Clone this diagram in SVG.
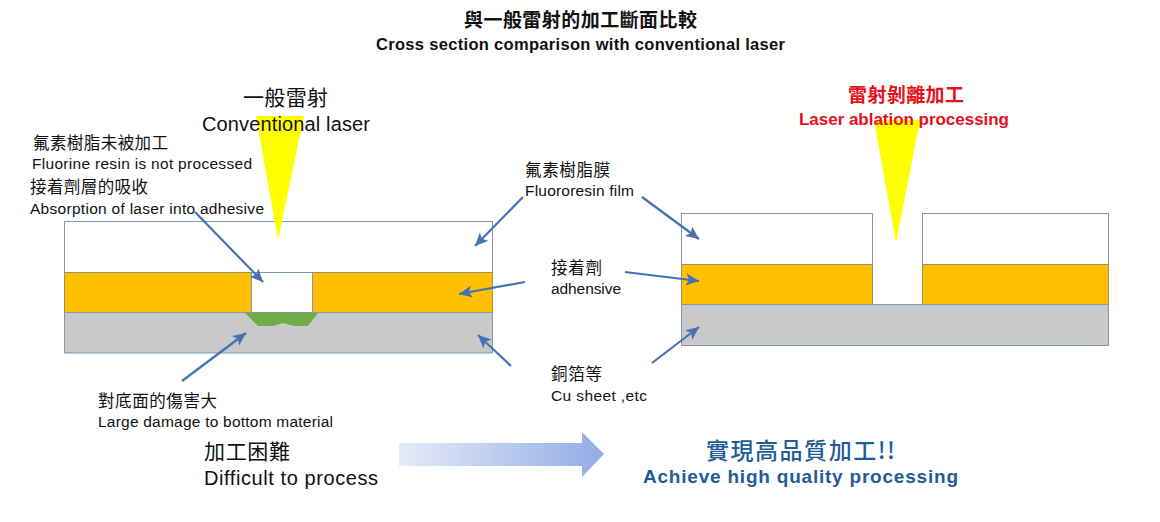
<svg xmlns="http://www.w3.org/2000/svg" width="1160" height="522" viewBox="0 0 1160 522">
<style>
text{font-family:"Liberation Sans","Noto Sans CJK TC",sans-serif;fill:#111}
.cjk{font-family:"Noto Sans CJK TC","Noto Sans CJK JP",sans-serif}
.b{font-weight:700}
.red{fill:#e8101a}
.blue{fill:#1f5c9a}
.film{fill:#fff;stroke:#8497b0;stroke-width:1}
.glue{fill:#ffc000;stroke:#a09060;stroke-width:1}
.cu{fill:#c9c9c9;stroke:#8497b0;stroke-width:1}
.beam{fill:#ffff00}
.lead{stroke:#4472b4;stroke-width:2.200;fill:none;marker-end:url(#tip)}
</style>
<defs>
<marker id="tip" markerUnits="userSpaceOnUse" markerWidth="15" markerHeight="13" refX="13" refY="6.500" orient="auto">
<path d="M0 0.500L13 6.500L0 12.500L3 6.500Z" fill="#4472b4"/>
</marker>
<linearGradient id="flow" x1="0" x2="1" y1="0" y2="0">
<stop offset="0" stop-color="#e6ebf8"/>
<stop offset="1" stop-color="#92ace6"/>
</linearGradient>
</defs>
<rect width="1160" height="522" fill="#fff"/>

<g id="title">
<text class="cjk b" x="464" y="27" font-size="19" textLength="233">與一般雷射的加工斷面比較</text>
<text class="b" x="376" y="50" font-size="16.500" textLength="409">Cross section comparison with conventional laser</text>
</g>

<g id="conventional-stack">
<rect class="film" x="64.500" y="221.500" width="428" height="51"/>
<rect class="glue" x="64.500" y="272.500" width="187" height="40"/>
<rect class="glue" x="312.500" y="272.500" width="180" height="40"/>
<rect x="251.500" y="272.500" width="61" height="40" fill="#fff" stroke="#8497b0"/>
<rect class="cu" x="64.500" y="312.500" width="428" height="40.500"/>
<path id="damage-zone" d="M245 313H318L308 326H294L283 323L273 326H258Z" fill="#70ad47"/>
</g>

<g id="conventional-beam">
<path class="beam" d="M256 116H304L278 240Z"/>
</g>

<g id="ablation-stack">
<rect class="film" x="681.500" y="213.500" width="191" height="51"/>
<rect class="film" x="922.500" y="213.500" width="186" height="51"/>
<rect class="glue" x="681.500" y="264.500" width="191" height="40"/>
<rect class="glue" x="922.500" y="264.500" width="186" height="40"/>
<rect class="cu" x="681.500" y="304.500" width="427" height="41"/>
</g>

<g id="ablation-beam">
<path class="beam" d="M874 120H920L896 243Z"/>
</g>

<g id="connectors">
<line class="lead" x1="195" y1="212" x2="263" y2="282"/>
<line class="lead" x1="523" y1="197" x2="475" y2="246"/>
<line class="lead" x1="525" y1="282" x2="459" y2="294"/>
<line class="lead" x1="511" y1="366" x2="478" y2="335"/>
<line class="lead" x1="182" y1="381" x2="246" y2="333"/>
<line class="lead" x1="642" y1="197" x2="699" y2="239"/>
<line class="lead" x1="625" y1="272" x2="699" y2="281"/>
<line class="lead" x1="652" y1="363" x2="699" y2="327"/>
</g>

<g id="flow-arrow">
<path d="M399 443H582V432L604 454L582 477V466H399Z" fill="url(#flow)"/>
</g>

<g id="label-conventional">
<text class="cjk" x="243" y="105" font-size="21" textLength="85">一般雷射</text>
<text x="202" y="131" font-size="20" textLength="168">Conventional laser</text>
</g>
<g id="label-ablation">
<text class="cjk b red" x="848" y="102" font-size="19" textLength="116">雷射剝離加工</text>
<text class="b red" x="799" y="125" font-size="17" textLength="210">Laser ablation processing</text>
</g>
<g id="label-resin">
<text class="cjk" x="33" y="149" font-size="16.500" textLength="135">氟素樹脂未被加工</text>
<text x="32" y="169" font-size="15.500" textLength="220">Fluorine resin is not processed</text>
</g>
<g id="label-absorption">
<text class="cjk" x="30" y="193" font-size="16.500" textLength="118">接着劑層的吸收</text>
<text x="30" y="214" font-size="15.500" textLength="234">Absorption of laser into adhesive</text>
</g>
<g id="label-film">
<text class="cjk" x="525" y="176" font-size="16.500" textLength="85">氟素樹脂膜</text>
<text x="525" y="196" font-size="15.500" textLength="109">Fluororesin film</text>
</g>
<g id="label-adhesive">
<text class="cjk" x="551" y="274" font-size="16.500" textLength="51">接着劑</text>
<text x="551" y="294" font-size="15.500" textLength="70">adhensive</text>
</g>
<g id="label-copper">
<text class="cjk" x="551" y="380" font-size="16.500" textLength="51">銅箔等</text>
<text x="551" y="401" font-size="15.500" textLength="96">Cu sheet ,etc</text>
</g>
<g id="label-damage">
<text class="cjk" x="98" y="407" font-size="16.500" textLength="119">對底面的傷害大</text>
<text x="98" y="427" font-size="15.500" textLength="235">Large damage to bottom material</text>
</g>
<g id="label-difficult">
<text class="cjk" x="204" y="459" font-size="21" textLength="86">加工困難</text>
<text x="204" y="485" font-size="20" textLength="174">Difficult to process</text>
</g>
<g id="label-quality">
<text class="cjk blue" x="706" y="459" font-size="23" textLength="189" style="font-weight:500">實現高品質加工!!</text>
<text class="b blue" x="643" y="483" font-size="19" textLength="315">Achieve high quality processing</text>
</g>
</svg>
